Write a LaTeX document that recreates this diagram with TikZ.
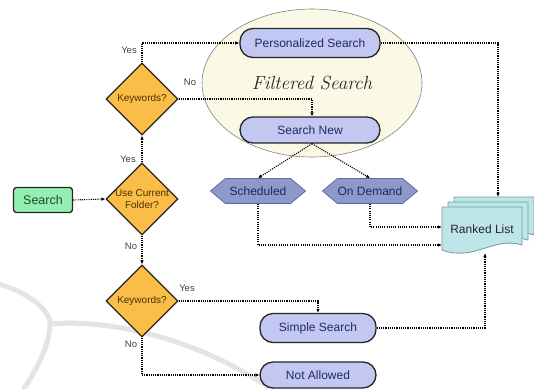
\documentclass[tikz,border=0pt]{standalone}
\usepackage{fontspec}
\setsansfont{Liberation Sans}
\usetikzlibrary{shapes.geometric,shapes.symbols,arrows.meta}
\definecolor{pillfill}{HTML}{C3C8F3}
\definecolor{pilltext}{HTML}{1E2A5E}
\definecolor{diafill}{HTML}{F9BD48}
\definecolor{diatext}{HTML}{4A3000}
\definecolor{hexfill}{HTML}{8D99C9}
\definecolor{hexline}{HTML}{5F6B9E}
\definecolor{startfill}{HTML}{95EFB2}
\definecolor{starttext}{HTML}{1C4A2A}
\definecolor{docfill}{HTML}{BEE5E7}
\definecolor{docline}{HTML}{6B9CA3}
\definecolor{ellfill}{HTML}{FBF9E6}
\definecolor{wmark}{HTML}{E4E4E4}
\tikzset{
  pill/.style={draw=black!85, line width=1.3pt, fill=pillfill, rounded corners=13pt,
    font=\sffamily\fontsize{12}{14}\selectfont, text=pilltext, inner sep=0pt},
  dia/.style={diamond, draw=black!85, line width=1.3pt, fill=diafill, inner sep=0pt,
    minimum width=72pt, minimum height=72pt},
  dialabel/.style={font=\sffamily\fontsize{10}{11.5}\selectfont, text=diatext, align=center},
  hexa/.style={signal, signal to=west and east, signal pointer angle=80, draw=hexline,
    line width=0.8pt, fill=hexfill, font=\sffamily\fontsize{12}{14}\selectfont,
    text=pilltext, inner sep=0pt, minimum height=25pt},
  yn/.style={font=\sffamily\fontsize{9.5}{11}\selectfont, text=black!75},
  conn/.style={draw=black, line width=1.1pt, dash pattern=on 1.1pt off 1.1pt,
    -{Latex[length=4pt,width=3.6pt]}},
  docshape/.style={draw=docline, line width=0.8pt, fill=docfill}
}
\begin{document}
\begin{tikzpicture}[x=1pt,y=-1pt]
\useasboundingbox (0,0) rectangle (534,388);
% watermark
\draw[wmark, line width=5pt, line cap=round] (-5,283) .. controls (30,292) and (52,312) .. (50,326) .. controls (48,350) and (36,370) .. (22,392);
\draw[wmark, line width=5pt] (50,324) .. controls (120,318) and (210,345) .. (275,392);
% ellipse
\node[ellipse, draw=black!50, line width=0.6pt, fill=ellfill, minimum width=220pt, minimum height=148pt,
  font=\itshape\fontsize{19}{22}\selectfont, text=black!85] (fs) at (312,83) {Filtered Search};
% pills
\node[pill, minimum width=140pt, minimum height=29pt] (ps) at (310,43) {Personalized Search};
\node[pill, minimum width=140pt, minimum height=26pt] (sn) at (310,130) {Search New};
\node[pill, minimum width=116pt, minimum height=29pt] (ss) at (318,328) {Simple Search};
\node[pill, minimum width=116pt, minimum height=26pt] (na) at (318,375) {Not Allowed};
% start
\node[draw=black!85, line width=1.3pt, fill=startfill, rounded corners=3pt, minimum width=59pt,
  minimum height=25pt, inner sep=0pt, font=\sffamily\fontsize{12.5}{14}\selectfont, text=starttext] (st) at (43,200) {Search};
% diamonds
\node[dia, label={[dialabel]center:Keywords?}] (kw1) at (142,99) {};
\node[dia, label={[dialabel]center:Use Current\\Folder?}] (uc) at (142,199) {};
\node[dia, label={[dialabel]center:Keywords?}] (kw2) at (142,301) {};
% hexagons
\node[hexa, minimum width=95pt] (sch) at (258,191) {Scheduled};
\node[hexa, minimum width=95pt] (od) at (370,191) {On Demand};
% ranked list
\draw[docshape] (454,197) -- (534,197) -- (534,235) .. controls (506,226) and (486,252) .. (454,240) -- cycle;
\draw[docshape] (448,202) -- (528,202) -- (528,240) .. controls (500,231) and (480,257) .. (448,245) -- cycle;
\draw[docshape] (442,207) -- (522,207) -- (522,245) .. controls (494,236) and (474,262) .. (442,250) -- cycle;
\node[minimum width=80pt, minimum height=44pt, inner sep=0pt, font=\sffamily\fontsize{12}{14}\selectfont,
  text=black!85] (rl) at (482,229) {Ranked List};
% connectors
\draw[conn] (st.east) -- (uc.west);
\draw[conn] (uc.north) -- (kw1.south);
\draw[conn] (kw1.north) |- (ps.west);
\draw[conn] (kw1.east) -| ([xshift=2pt]sn.north);
\draw[conn] (uc.south) -- (kw2.north);
\draw[conn] (kw2.east) -| (ss.north);
\draw[conn] (kw2.south) |- (na.west);
\draw[conn] ([xshift=2pt]sn.south) -- (sch.north);
\draw[conn] ([xshift=2pt]sn.south) -- (od.north);
\draw[conn] (ps.east) -| ([xshift=16pt,yshift=10pt]rl.north);
\draw[conn] (od.south) |- ([yshift=2pt]rl.west);
\draw[conn] (sch.south) |- ([yshift=-16pt]rl.west);
\draw[conn] (ss.east) -| ([xshift=3pt,yshift=-2pt]rl.south);
% yes/no labels
\node[yn] (l1) at (129,50) {Yes};
\node[yn] (l2) at (190,82) {No};
\node[yn] (l3) at (128,159) {Yes};
\node[yn] (l4) at (131,246) {No};
\node[yn] (l5) at (187,288) {Yes};
\node[yn] (l6) at (131,344) {No};
\end{tikzpicture}
\end{document}
